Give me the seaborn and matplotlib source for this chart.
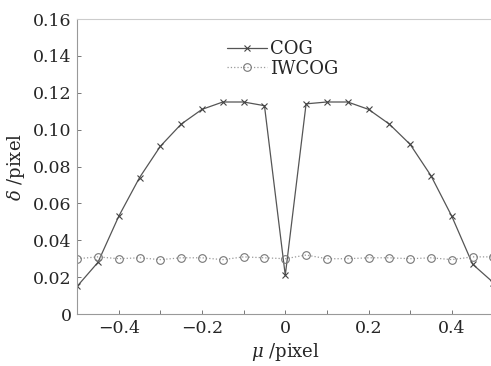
import numpy as np
import pandas as pd
import matplotlib
matplotlib.use("Agg")
import matplotlib.pyplot as plt
import seaborn as sns

sns.set_style("ticks")
plt.rcParams['font.family'] = ['DejaVu Serif']
plt.rcParams['mathtext.fontset'] = 'dejavuserif'

mu = [-0.5, -0.45, -0.4, -0.35, -0.3, -0.25, -0.2, -0.15, -0.1, -0.05, 0.0,
      0.05, 0.1, 0.15, 0.2, 0.25, 0.3, 0.35, 0.4, 0.45, 0.5]
cog = [0.015, 0.028, 0.053, 0.074, 0.091, 0.103, 0.111, 0.115, 0.115, 0.113, 0.021,
       0.114, 0.115, 0.115, 0.111, 0.103, 0.092, 0.075, 0.053, 0.027, 0.017]
iwcog = [0.030, 0.031, 0.030, 0.0305, 0.0295, 0.0305, 0.0305, 0.0295, 0.031, 0.0305, 0.030,
         0.032, 0.030, 0.030, 0.0305, 0.0305, 0.030, 0.0305, 0.0295, 0.031, 0.031]

df = pd.DataFrame({"mu": mu, "COG": cog, "IWCOG": iwcog})

fig = plt.figure(figsize=(4.91, 3.66), dpi=100)
ax = fig.add_axes([0.157, 0.142, 0.848, 0.806])

sns.lineplot(data=df, x="mu", y="COG", ax=ax, color="#555555", lw=0.9,
             marker="x", markersize=4, markeredgewidth=0.8, markeredgecolor="#444444",
             label="COG")
sns.lineplot(data=df, x="mu", y="IWCOG", ax=ax, color="#999999", lw=0.9, ls=":",
             marker="o", markersize=5.5, markerfacecolor="none", markeredgewidth=0.8,
             markeredgecolor="#777777", label="IWCOG")

ax.set_xlim(-0.5, 0.5)
ax.set_ylim(0, 0.16)
ax.set_xticks(np.round(np.arange(-0.5, 0.51, 0.1), 2))
ax.set_xticklabels(["", "\u22120.4", "", "\u22120.2", "", "0", "", "0.2", "", "0.4", ""])
ax.set_yticks(np.arange(0, 0.161, 0.02))
ax.set_yticklabels(["0"] + [f"{v:.2f}" for v in np.arange(0.02, 0.161, 0.02)])
ax.tick_params(direction="in", length=3, width=0.7, labelsize=12.5, color="#777777", pad=4)
for s in ax.spines.values():
    s.set_color("#999999")
    s.set_linewidth(0.8)
ax.spines["top"].set_color("#cccccc")

ax.set_xlabel(r"$\mu$ /pixel", fontsize=13, labelpad=3)
ax.set_ylabel(r"$\delta$ /pixel", fontsize=13, labelpad=4)

ax.legend(loc="upper left", bbox_to_anchor=(227 / 491, 1 - 40 / 366),
          bbox_transform=fig.transFigure, frameon=False, borderpad=0, borderaxespad=0,
          fontsize=13, handlelength=2.2, handletextpad=0.2, labelspacing=0.1)

fig.savefig("out.png", dpi=100)
